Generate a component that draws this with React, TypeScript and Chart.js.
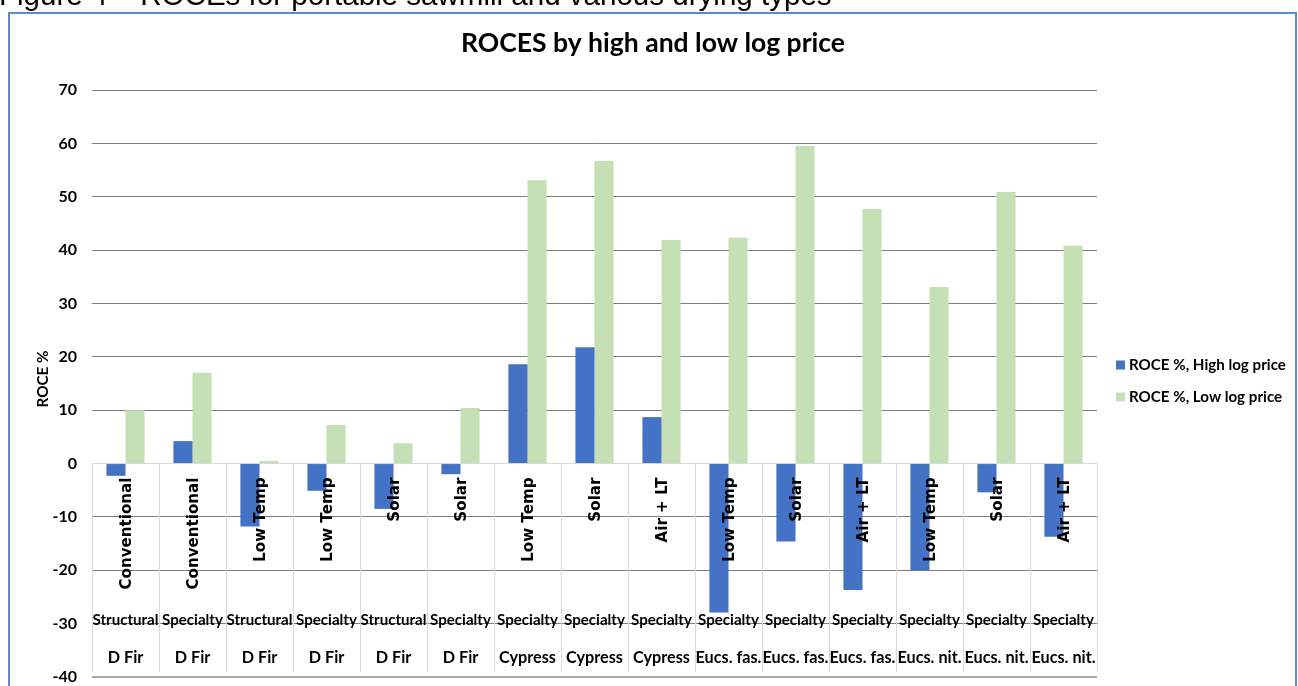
import React, { useEffect, useRef } from "react";
import { Chart, registerables } from "chart.js";

Chart.register(...registerables);

const dryingTypes = [
  "Conventional", "Conventional", "Low Temp", "Low Temp", "Solar", "Solar",
  "Low Temp", "Solar", "Air + LT", "Low Temp", "Solar", "Air + LT",
  "Low Temp", "Solar", "Air + LT",
];
const productTypes = [
  "Structural", "Specialty", "Structural", "Specialty", "Structural", "Specialty",
  "Specialty", "Specialty", "Specialty", "Specialty", "Specialty", "Specialty",
  "Specialty", "Specialty", "Specialty",
];
const species = [
  "D Fir", "D Fir", "D Fir", "D Fir", "D Fir", "D Fir",
  "Cypress", "Cypress", "Cypress", "Eucs. fas.", "Eucs. fas.", "Eucs. fas.",
  "Eucs. nit.", "Eucs. nit.", "Eucs. nit.",
];
const highLogPrice = [-2.3, 4.2, -11.8, -5.1, -8.5, -2.0, 18.6, 21.8, 8.7, -27.9, -14.6, -23.7, -20.0, -5.4, -13.7];
const lowLogPrice = [10.0, 17.0, 0.5, 7.2, 3.8, 10.4, 53.1, 56.7, 41.9, 42.3, 59.5, 47.7, 33.1, 50.9, 40.8];
const seriesNames = ["ROCE %, High log price", "ROCE %, Low log price"];
const seriesColors = ["#4472C4", "#C5E0B4"];
const chartTitle = "ROCES by high and low log price";
const captionText = "Figure 4 \u2013 ROCEs for portable sawmill and various drying types";
const yAxisTitle = "ROCE %";

function fitFont(ctx: any, text: string, weight: string, family: string, target: number) {
  ctx.font = `${weight} 20px ${family}`;
  const w = ctx.measureText(text).width;
  return `${weight} ${(20 * target) / w}px ${family}`;
}

const labelPlugin = {
  id: "multiLevel",
  beforeDraw(chart: any) {
    const ctx = chart.ctx;
    ctx.save();
    ctx.fillStyle = "#ffffff";
    ctx.fillRect(0, 0, chart.width, chart.height);
    ctx.restore();
  },
  beforeDatasetsDraw(chart: any) {
    const ctx = chart.ctx;
    const y = chart.scales.y;
    const area = chart.chartArea;
    const n = dryingTypes.length;
    const w = (area.right - area.left) / n;
    const y0 = y.getPixelForValue(0);
    ctx.save();
    ctx.strokeStyle = "#d9d9d9";
    ctx.lineWidth = 1;
    for (let i = 0; i <= n; i++) {
      const px = Math.round(area.left + i * w) + 0.5;
      ctx.beginPath();
      ctx.moveTo(px, y0);
      ctx.lineTo(px, area.bottom - 5);
      ctx.stroke();
    }
    ctx.restore();
  },
  afterDatasetsDraw(chart: any) {
    const ctx = chart.ctx;
    const x = chart.scales.x;
    const y = chart.scales.y;
    const y0 = y.getPixelForValue(0);
    ctx.save();
    ctx.fillStyle = "#000000";
    ctx.font = fitFont(ctx, "Conventional", "bold", "'DejaVu Sans'", 112);
    dryingTypes.forEach((t, i) => {
      const cx = x.getPixelForValue(i) + 1.5;
      ctx.save();
      ctx.translate(cx, y0 + 14);
      ctx.rotate(-Math.PI / 2);
      ctx.textAlign = "right";
      ctx.textBaseline = "middle";
      ctx.fillText(t, 0, 0);
      ctx.restore();
    });
    ctx.textAlign = "center";
    ctx.textBaseline = "middle";
    ctx.font = fitFont(ctx, "Structural", "bold", "Lato", 66);
    productTypes.forEach((t, i) => {
      ctx.fillText(t, x.getPixelForValue(i), 620);
    });
    ctx.font = fitFont(ctx, "Eucs. fas.", "bold", "Lato", 66);
    species.forEach((t, i) => {
      ctx.fillText(t, x.getPixelForValue(i), 658);
    });
    ctx.restore();
  },
  afterDraw(chart: any) {
    const ctx = chart.ctx;
    ctx.save();
    ctx.strokeStyle = "#5b8cc9";
    ctx.lineWidth = 2;
    ctx.strokeRect(9, 13, 1287, 700);
    ctx.fillStyle = "#000000";
    ctx.font = fitFont(ctx, captionText, "normal", "'Liberation Sans'", 833);
    ctx.textAlign = "left";
    ctx.textBaseline = "alphabetic";
    ctx.fillText(captionText, -1, 5);
    ctx.font = fitFont(ctx, chartTitle, "bold", "Lato", 384);
    ctx.textAlign = "center";
    ctx.fillText(chartTitle, 653, 52);
    ctx.textBaseline = "middle";
    ctx.font = fitFont(ctx, yAxisTitle, "bold", "Lato", 57);
    ctx.save();
    ctx.translate(43, 379);
    ctx.rotate(-Math.PI / 2);
    ctx.fillText(yAxisTitle, 0, 0);
    ctx.restore();
    ctx.textAlign = "left";
    ctx.font = fitFont(ctx, seriesNames[0], "bold", "Lato", 157);
    const ly = [365, 397];
    seriesNames.forEach((s, i) => {
      ctx.fillStyle = seriesColors[i];
      ctx.fillRect(1116, ly[i] - 4.5, 9, 9);
      ctx.fillStyle = "#000000";
      ctx.fillText(s, 1129, ly[i]);
    });
    ctx.restore();
  },
};

export default function App() {
  const ref = useRef<HTMLCanvasElement | null>(null);
  useEffect(() => {
    if (!ref.current) return;
    const chart = new Chart(ref.current, {
      type: "bar",
      data: {
        labels: dryingTypes.map((d, i) => `${species[i]} ${productTypes[i]} ${d}`),
        datasets: [
          { label: seriesNames[0], data: highLogPrice, backgroundColor: seriesColors[0], borderWidth: 0 },
          { label: seriesNames[1], data: lowLogPrice, backgroundColor: seriesColors[1], borderWidth: 0 },
        ],
      },
      options: {
        responsive: false,
        animation: false,
        devicePixelRatio: 1,
        layout: { padding: { left: 0, right: 201, top: 90, bottom: 9 } },
        datasets: { bar: { categoryPercentage: 0.57, barPercentage: 1 } },
        plugins: { legend: { display: false }, title: { display: false }, tooltip: { enabled: false } },
        scales: {
          x: { display: false },
          y: {
            min: -40,
            max: 70,
            afterFit: (s: any) => {
              s.width = 92;
              s.paddingTop = 0;
              s.paddingBottom = 0;
            },
            border: { display: false },
            ticks: {
              stepSize: 10,
              padding: 15,
              color: "#000000",
              font: { family: "Lato", size: 16, weight: "bold" },
            },
            grid: {
              drawTicks: false,
              color: (c: any) => (c.tick && c.tick.value === 0 ? "#d9d9d9" : c.tick && c.tick.value === -40 ? "#a6a6a6" : "#7f7f7f"),
              lineWidth: (c: any) => (c.tick && c.tick.value === -40 ? 2 : 1),
            },
          },
        },
      },
      plugins: [labelPlugin],
    });
    return () => chart.destroy();
  }, []);
  return (
    <div style={{ position: "fixed", left: 0, top: 0, width: 1298, height: 686 }}>
      <canvas ref={ref} width={1298} height={686} />
    </div>
  );
}
